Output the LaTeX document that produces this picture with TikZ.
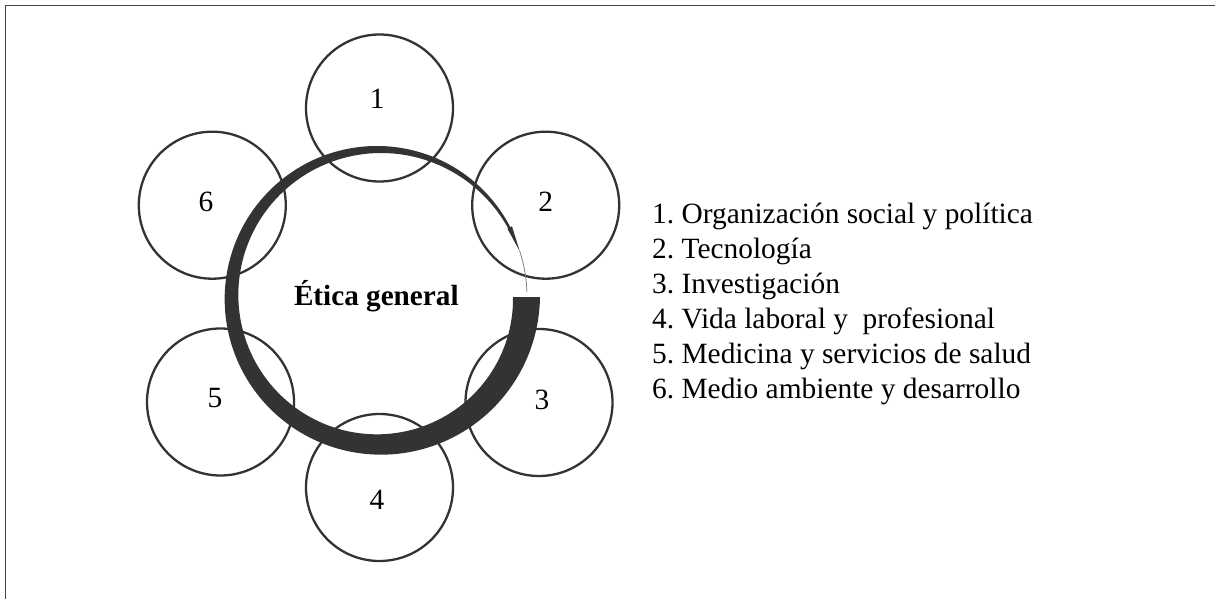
\documentclass[tikz,border=0pt]{standalone}
\usepackage{fontspec}
\setmainfont{Liberation Serif}
\definecolor{ink}{HTML}{333333}
\definecolor{framec}{HTML}{444444}
\begin{document}
\frenchspacing
\begin{tikzpicture}[x=1pt,y=-1pt,
  circ/.style={circle, draw=ink, line width=2.3pt, minimum size=147pt, inner sep=0pt},
  num/.style={font=\fontsize{29.4}{35}\selectfont, inner sep=0pt},
  item/.style={font=\fontsize{29.4}{35}\selectfont, anchor=base west, inner sep=0pt},
  title/.style={font=\fontsize{29.2}{35}\selectfont\bfseries, anchor=base, inner sep=0pt}
  ]
\useasboundingbox (0,0) rectangle (1215,599);
% frame (top and left)
\draw[framec, line width=1.5pt] (5.7,599) -- (5.7,5.7) -- (1215,5.7);
% circles
\node[circ] (c1) at (379.5,108) {};
\node[circ] (c2) at (545.7,205.2) {};
\node[circ] (c3) at (539,402.5) {};
\node[circ] (c4) at (379.5,487.5) {};
\node[circ] (c5) at (220.5,402) {};
\node[circ] (c6) at (212.3,205.2) {};
% numbers
\node[num] (n1) at (377.3,98.3) {1};
\node[num] (n2) at (545.7,201.7) {2};
\node[num] (n3) at (542,400) {3};
\node[num] (n4) at (377,500) {4};
\node[num] (n5) at (215,398) {5};
\node[num] (n6) at (206,201.7) {6};
% tapered circular band
\fill[ink] plot[domain=0:333, samples=150, variable=\s]
  ({379+(147.5+(27-0.074*\s)/2)*cos(\s)}, {297+(147.5+(27-0.074*\s)/2)*sin(\s)})
  -- plot[domain=333:0, samples=150, variable=\s]
  ({379+(147.5-(27-0.074*\s)/2)*cos(\s)}, {297+(147.5-(27-0.074*\s)/2)*sin(\s)})
  -- cycle;
% small arrow head
\fill[ink] ({379+150.6*cos(332)},{297+150.6*sin(332)})
  -- ({379+148*cos(342)},{297+148*sin(342)})
  -- ({379+145.4*cos(332)},{297+145.4*sin(332)}) -- cycle;
% hairline end
\coordinate (h0) at ({379+148*cos(342)},{297+148*sin(342)});
\draw[ink!70, line width=0.7pt] (h0) arc[start angle=342, end angle=358, radius=148];
% centre title
\node[title] (eg) at (376.3,305) {Ética general};
% legend
\node[item] (t1) at (652,223) {1. Organización social y política};
\node[item] (t2) at (652,258) {2. Tecnología};
\node[item] (t3) at (652,293) {3. Investigación};
\node[item] (t4) at (652,328) {4. Vida laboral y\ \ profesional};
\node[item] (t5) at (652,363) {5. Medicina y servicios de salud};
\node[item] (t6) at (652,398) {6. Medio ambiente y desarrollo};
\end{tikzpicture}
\end{document}
